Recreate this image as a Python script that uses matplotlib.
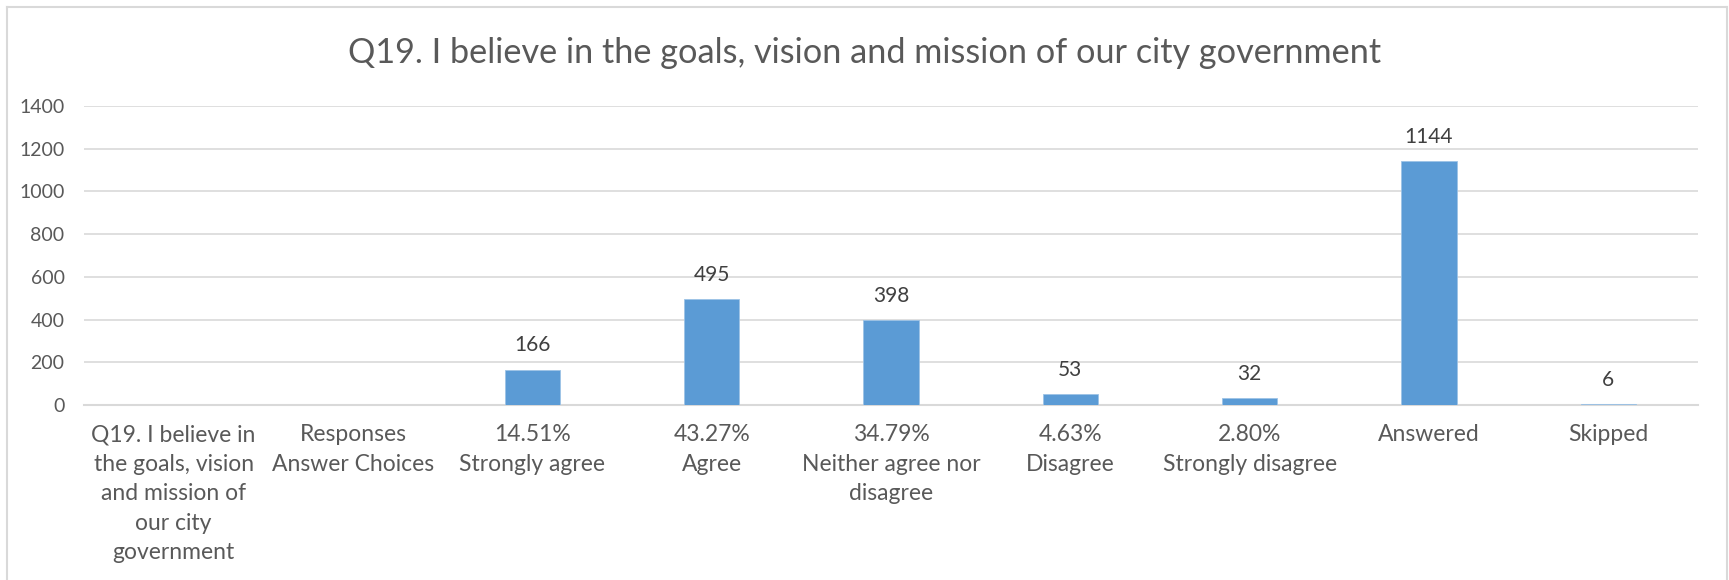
import numpy as np
import matplotlib.pyplot as plt
from matplotlib.lines import Line2D

categories = [
    "Q19. I believe in\nthe goals, vision\nand mission of\nour city\ngovernment",
    "Responses\nAnswer Choices",
    "14.51%\nStrongly agree",
    "43.27%\nAgree",
    "34.79%\nNeither agree nor\ndisagree",
    "4.63%\nDisagree",
    "2.80%\nStrongly disagree",
    "Answered",
    "Skipped",
]
counts = [np.nan, np.nan, 166, 495, 398, 53, 32, 1144, 6]
y_ticks = [0, 200, 400, 600, 800, 1000, 1200, 1400]

title = "Q19. I believe in the goals, vision and mission of our city government"

plt.rcParams['font.family'] = ['Lato', 'DejaVu Sans']
text_grey = '#595959'
grid_grey = '#d9d9d9'
bar_blue = '#5b9bd5'

fig = plt.figure(figsize=(17.29, 5.8), dpi=100)
ax = fig.add_axes([84 / 1729, 1 - 405 / 580, (1698 - 84) / 1729, (405 - 106) / 580])

x_pos = np.arange(len(categories))
bars = ax.bar(x_pos, counts, width=0.31, color=bar_blue, edgecolor='#9dc3e6', linewidth=0.6, zorder=3)

for x, v in zip(x_pos, counts):
    if np.isnan(v):
        continue
    ax.annotate(f"{v:.0f}", (x, v), xytext=(0, 13), textcoords='offset points',
                ha='center', va='baseline', fontsize=15, color='#404040')

ax.set_xlim(-0.5, len(categories) - 0.5)
ax.set_ylim(0, 1400)
ax.set_yticks(y_ticks)
ax.set_xticks(x_pos)
ax.set_xticklabels(categories, fontsize=16.5, color=text_grey, linespacing=1.5)
ax.tick_params(axis='y', labelsize=14, labelcolor=text_grey, length=0, pad=14)
ax.tick_params(axis='x', length=0, pad=14)

ax.grid(axis='y', color=grid_grey, linewidth=1.2, zorder=0)
for side in ['top', 'right', 'left']:
    ax.spines[side].set_visible(False)
ax.spines['bottom'].set_color(grid_grey)
ax.spines['bottom'].set_linewidth(1.5)

fig.text(0.5, 1 - 53 / 580, title, ha='center', va='center', fontsize=24.7, color=text_grey)

# chart area frame (bottom edge falls outside the saved image)
frame = dict(color='#d9d9d9', linewidth=1.5, transform=fig.transFigure)
fig.add_artist(Line2D([7 / 1729, 7 / 1729], [0, 1 - 7 / 580], **frame))
fig.add_artist(Line2D([7 / 1729, 1727 / 1729], [1 - 7 / 580, 1 - 7 / 580], **frame))
fig.add_artist(Line2D([1727 / 1729, 1727 / 1729], [0, 1 - 7 / 580], **frame))

fig.savefig('out.png', dpi=100, facecolor='white')
